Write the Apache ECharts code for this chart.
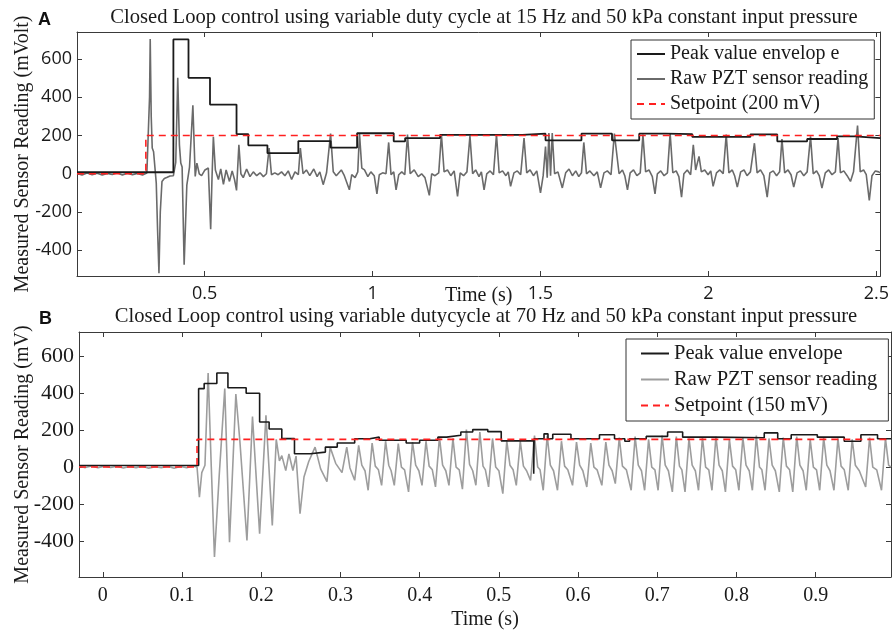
<!DOCTYPE html>
<html>
<head>
<meta charset="utf-8">
<script src="https://cdn.jsdelivr.net/npm/echarts@6.0.0/dist/echarts.min.js"></script>
<style>
  html, body { margin: 0; padding: 0; background: #fff; }
  #chart { width: 892px; height: 634px; }
</style>
</head>
<body>
<div id="chart"></div>
<script>
// ---- Panel A data (time s, mV) ----
const topXTicks = [0.5, 1, 1.5, 2, 2.5];
const topYTicks = [-400, -200, 0, 200, 400, 600];

const topRaw = [
  [0.120, 2], [0.135, -6], [0.150, 4], [0.165, -5], [0.180, 3], [0.195, -7], [0.210, 2], [0.225, -4],
  [0.240, 5], [0.255, -6], [0.270, 3], [0.285, -5], [0.300, 2], [0.315, -6], [0.328, 4], [0.333, 10],
  [0.336, 400], [0.338, 705], [0.341, 300], [0.344, 135], [0.348, 115], [0.353, 110], [0.356, -49],
  [0.360, -300], [0.364, -520], [0.368, -200], [0.373, -40], [0.380, -25], [0.387, -20], [0.397, -12],
  [0.407, -10], [0.414, 60], [0.420, 502], [0.425, 150], [0.429, 56], [0.433, 35], [0.439, -476],
  [0.447, -60], [0.455, 35], [0.465, 359], [0.472, -14], [0.477, 56], [0.484, 0], [0.491, -10],
  [0.501, 20], [0.511, 30], [0.518, -290], [0.522, -20], [0.526, 194], [0.532, 20], [0.541, -30],
  [0.548, 25], [0.556, -55], [0.564, 20], [0.574, -40], [0.582, 15], [0.589, -30], [0.595, -87],
  [0.602, 152], [0.608, 0], [0.615, -20], [0.625, 25], [0.635, -15], [0.645, 10], [0.655, -10],
  [0.665, 5], [0.675, -15], [0.684, 0], [0.692, 135], [0.699, -5], [0.709, 5], [0.719, -5],
  [0.729, 10], [0.739, -10], [0.749, 15], [0.759, -30], [0.769, 10], [0.779, -5], [0.785, 135],
  [0.793, 0], [0.803, 20], [0.813, -10], [0.825, 25], [0.835, -15], [0.843, 10], [0.853, -57],
  [0.863, 5], [0.875, 210], [0.883, 10], [0.892, -10], [0.907, 20], [0.916, -10],
  [0.931, -84], [0.938, -5], [0.948, -20], [0.956, 10], [0.961, 213], [0.968, 30], [0.976, 20],
  [0.986, -15], [0.995, 10], [1.005, -10], [1.013, -105], [1.020, -5], [1.030, 5], [1.040, 0],
  [1.048, 164], [1.055, -5], [1.063, 10], [1.070, -84], [1.078, -5], [1.087, 10], [1.096, -5],
  [1.104, 205], [1.112, 0], [1.124, 20], [1.136, -15], [1.146, 0], [1.156, -20], [1.169, -113],
  [1.176, 0], [1.186, -10], [1.197, 5], [1.205, 205], [1.213, 10], [1.223, 20], [1.233, -10],
  [1.243, 15], [1.253, -119], [1.261, 5], [1.271, -10], [1.281, 10], [1.290, 199], [1.298, 0],
  [1.307, 20], [1.317, -15], [1.324, 10], [1.332, -84], [1.340, 0], [1.350, 15], [1.360, -5],
  [1.369, 205], [1.377, 5], [1.387, 15], [1.397, -10], [1.404, 10], [1.411, -66], [1.421, 5],
  [1.431, 15], [1.441, -5], [1.451, 187], [1.459, 5], [1.469, 20], [1.479, -10], [1.489, 15],
  [1.500, -100], [1.508, -10], [1.515, 143], [1.520, -20], [1.525, 213], [1.530, -10], [1.535, 213],
  [1.542, 0], [1.552, 10], [1.565, -74], [1.575, 5], [1.585, 25], [1.595, -10], [1.605, 15],
  [1.614, -15], [1.622, 5], [1.629, 164], [1.637, 0], [1.647, 15], [1.659, -10], [1.669, 10],
  [1.679, -74], [1.689, 5], [1.699, 15], [1.710, -5], [1.720, 210], [1.734, 0], [1.744, 20],
  [1.751, -10], [1.759, -84], [1.767, 5], [1.777, 20], [1.787, -10], [1.797, 5], [1.805, 205],
  [1.813, 10], [1.823, 20], [1.833, -15], [1.841, -105], [1.848, 0], [1.858, 15], [1.868, -10],
  [1.878, 5], [1.886, 213], [1.894, 5], [1.904, 15], [1.912, -15], [1.920, -122], [1.927, 0],
  [1.937, 20], [1.947, -5], [1.955, 152], [1.962, 20], [1.972, 91], [1.979, 10], [1.989, 20],
  [1.999, -5], [2.007, 15], [2.014, -66], [2.024, 5], [2.034, 20], [2.044, 0], [2.053, 205],
  [2.061, 5], [2.071, 20], [2.078, -10], [2.086, -70], [2.096, 10], [2.106, 20], [2.115, -10],
  [2.125, 10], [2.137, 160], [2.145, 5], [2.155, 20], [2.165, -10], [2.175, -122], [2.183, 5],
  [2.193, 15], [2.203, -10], [2.212, 10], [2.219, 182], [2.227, 5], [2.237, 20], [2.246, -5],
  [2.254, -70], [2.264, 5], [2.274, 15], [2.284, -10], [2.294, 10], [2.304, 196], [2.312, 0],
  [2.322, 15], [2.330, -10], [2.338, -75], [2.348, 5], [2.358, 20], [2.368, -5], [2.378, 10],
  [2.386, 187], [2.393, 5], [2.403, 15], [2.413, -10], [2.423, -40], [2.432, 10], [2.444, 252],
  [2.452, 10], [2.462, 20], [2.470, -5], [2.479, -140], [2.487, -10], [2.497, 15], [2.507, 10],
  [2.512, 5]
];

// value holds from this time until the next entry
const topEnvelope = [
  [0.120, 8], [0.407, 703], [0.452, 502], [0.516, 362], [0.595, 208], [0.630, 149], [0.687, 108],
  [0.779, 171], [0.875, 137], [0.954, 212], [1.063, 170], [1.097, 187], [1.201, 204], [1.446, 210],
  [1.515, 175], [1.622, 210], [1.713, 175], [1.794, 210], [1.873, 207], [1.952, 193], [2.125, 206],
  [2.205, 170], [2.294, 182], [2.383, 196], [2.437, 187], [2.512, 187]
];

const topSetpoint = [[0.120, 0], [0.325, 200], [2.512, 200]];

// ---- Panel B data ----
const bottomXTicks = [0, 0.1, 0.2, 0.3, 0.4, 0.5, 0.6, 0.7, 0.8, 0.9];
const bottomYTicks = [-400, -200, 0, 200, 400, 600];

const bottomRaw = [
  [-0.030, 4], [-0.022, -3], [-0.014, 6], [-0.006, -4], [0.002, 5], [0.010, -2], [0.018, 4],
  [0.026, -5], [0.034, 3], [0.042, -3], [0.050, 5], [0.058, -6], [0.066, 2], [0.074, -4],
  [0.082, 5], [0.090, -6], [0.098, 3], [0.106, -4], [0.114, 6], [0.119, 0],
  [0.120, 0], [0.122, -163], [0.125, -30], [0.129, 10], [0.133, 510], [0.137, 0], [0.141, -488],
  [0.147, -45], [0.154, 425], [0.160, -407], [0.168, 396], [0.173, 145], [0.182, -398], [0.189, 274],
  [0.198, -361], [0.206, 280], [0.214, -316], [0.219, 150], [0.223, 33], [0.226, 62], [0.231, -19],
  [0.235, 71], [0.240, -19], [0.244, 59], [0.249, -253], [0.254, -54], [0.260, 30], [0.268, 108],
  [0.275, -10], [0.283, -79], [0.287, 108], [0.294, 20], [0.302, -30], [0.308, 108], [0.312, -5],
  [0.318, -72], [0.323, 118], [0.327, 10], [0.331, -20],
  [0.335, -126], [0.340, 130], [0.344, 5], [0.348, -15],
  [0.352, -99], [0.357, 140], [0.361, 10], [0.364, -20],
  [0.368, -99], [0.373, 127], [0.377, 0], [0.381, -15],
  [0.386, -135], [0.391, 135], [0.395, 10], [0.399, -20],
  [0.403, -99], [0.408, 140], [0.412, 5], [0.416, -15],
  [0.420, -108], [0.425, 162], [0.429, 10], [0.433, -20],
  [0.437, -99], [0.442, 155], [0.446, 0], [0.450, -15],
  [0.454, -120], [0.459, 203], [0.463, 15], [0.467, -20],
  [0.471, -99], [0.476, 190], [0.480, 5], [0.483, -15],
  [0.487, -108], [0.492, 155], [0.496, 0], [0.500, -20],
  [0.505, -144], [0.510, 140], [0.514, 10], [0.518, -15],
  [0.522, -99], [0.527, 140], [0.531, 5], [0.535, -20],
  [0.540, -72], [0.545, 170], [0.549, 0], [0.552, -15],
  [0.556, -126], [0.561, 170], [0.565, 10], [0.569, -20],
  [0.574, -126], [0.579, 140], [0.583, 5], [0.587, -15],
  [0.593, -99], [0.598, 135], [0.602, 10], [0.606, -20],
  [0.611, -108], [0.616, 130], [0.620, 0], [0.624, -15],
  [0.630, -99], [0.635, 135], [0.639, 10], [0.643, -20],
  [0.647, -90], [0.652, 160], [0.656, 5], [0.661, -15],
  [0.667, -126], [0.672, 165], [0.676, 10], [0.680, -20],
  [0.684, -126], [0.689, 150], [0.693, 0], [0.697, -15],
  [0.701, -126], [0.706, 170], [0.710, 10], [0.714, -20],
  [0.719, -135], [0.724, 165], [0.728, 5], [0.731, -15],
  [0.735, -135], [0.740, 155], [0.744, 10], [0.748, -20],
  [0.752, -126], [0.757, 160], [0.761, 0], [0.765, -15],
  [0.769, -126], [0.774, 165], [0.778, 10], [0.782, -20],
  [0.786, -135], [0.791, 150], [0.795, 5], [0.799, -15],
  [0.803, -126], [0.808, 160], [0.812, 10], [0.816, -20],
  [0.820, -126], [0.825, 170], [0.829, 0], [0.832, -15],
  [0.836, -126], [0.841, 155], [0.845, 10], [0.849, -20],
  [0.854, -135], [0.859, 160], [0.863, 5], [0.867, -15],
  [0.871, -135], [0.876, 165], [0.880, 10], [0.884, -20],
  [0.888, -126], [0.893, 150], [0.897, 0], [0.901, -15],
  [0.905, -126], [0.910, 160], [0.914, 10], [0.918, -20],
  [0.923, -126], [0.928, 155], [0.932, 5], [0.936, -15],
  [0.941, -126], [0.946, 150], [0.950, 10], [0.955, -20],
  [0.963, -108], [0.968, 160], [0.972, 0], [0.977, -15],
  [0.983, -126], [0.988, 155], [0.992, 10], [0.995, 0]
];

const bottomEnvelope = [
  [-0.030, 8], [0.121, 425], [0.128, 453], [0.144, 510], [0.158, 430], [0.181, 400], [0.198, 244],
  [0.210, 206], [0.226, 154], [0.242, 72], [0.262, 81], [0.281, 108], [0.296, 130], [0.318, 153],
  [0.337, 162], [0.349, 145], [0.383, 130], [0.400, 145], [0.423, 162], [0.434, 172], [0.452, 190],
  [0.467, 203], [0.486, 192], [0.503, 142], [0.544, -36], [0.5445, 153], [0.557, 180], [0.562, 153],
  [0.568, 178], [0.591, 153], [0.627, 175], [0.646, 153], [0.659, 140], [0.665, 153], [0.686, 166],
  [0.713, 190], [0.732, 162], [0.772, 159], [0.835, 185], [0.852, 153], [0.869, 175], [0.902, 162],
  [0.936, 140], [0.957, 175], [0.978, 153], [0.995, 153]
];

const bottomSetpoint = [[-0.030, 0], [0.119, 150], [0.995, 150]];

const serif = 'Liberation Serif';
const sans = 'Open Sans';
const axisColor = '#3a3a3a';

const chart = echarts.init(document.getElementById('chart'));

function xAxes(grid, min, max, ticks, labelFont, labelSize, nameGap) {
  return [
    {
      type: 'value', gridIndex: grid, min, max, position: 'bottom',
      axisLine: { show: true, onZero: false, lineStyle: { color: axisColor, width: 1 } },
      axisTick: { show: true, inside: true, length: 5, customValues: ticks, lineStyle: { color: axisColor } },
      axisLabel: { customValues: ticks, fontFamily: labelFont, fontSize: labelSize, color: '#1a1a1a', margin: 9 },
      splitLine: { show: false },
      name: 'Time (s)', nameLocation: 'middle', nameGap, nameMoveOverlap: false,
      nameTextStyle: { fontFamily: serif, fontSize: 20, color: '#1a1a1a' }
    },
    {
      type: 'value', gridIndex: grid, min, max, position: 'top',
      axisLine: { show: true, onZero: false, lineStyle: { color: axisColor, width: 1 } },
      axisTick: { show: true, inside: true, length: 5, customValues: ticks, lineStyle: { color: axisColor } },
      axisLabel: { show: false },
      splitLine: { show: false }
    }
  ];
}

function yAxes(grid, min, max, ticks, labelFont, labelSize, name, nameGap) {
  return [
    {
      type: 'value', gridIndex: grid, min, max, position: 'left',
      axisLine: { show: true, onZero: false, lineStyle: { color: axisColor, width: 1 } },
      axisTick: { show: true, inside: true, length: 5, customValues: ticks, lineStyle: { color: axisColor } },
      axisLabel: { customValues: ticks, fontFamily: labelFont, fontSize: labelSize, color: '#1a1a1a', margin: 5 },
      splitLine: { show: false },
      name, nameLocation: 'middle', nameGap, nameMoveOverlap: false,
      nameTextStyle: { fontFamily: serif, fontSize: 20, color: '#1a1a1a' }
    },
    {
      type: 'value', gridIndex: grid, min, max, position: 'right',
      axisLine: { show: true, onZero: false, lineStyle: { color: axisColor, width: 1 } },
      axisTick: { show: true, inside: true, length: 5, customValues: ticks, lineStyle: { color: axisColor } },
      axisLabel: { show: false },
      splitLine: { show: false }
    }
  ];
}

function line(name, data, axis, color, width, extra) {
  return Object.assign({
    name, type: 'line', data,
    xAxisIndex: axis, yAxisIndex: axis,
    showSymbol: false, symbol: 'none',
    lineStyle: { color, width },
    itemStyle: { color },
    emphasis: { disabled: true }
  }, extra || {});
}

const legendBase = {
  orient: 'vertical', selectedMode: false,
  backgroundColor: '#fff', borderColor: '#333', borderWidth: 1, borderRadius: 0,
  padding: [4, 6, 5, 5], itemGap: 5, itemWidth: 28, itemHeight: 12,
  itemStyle: { opacity: 0 },
  textStyle: { fontFamily: serif, fontSize: 20, color: '#1a1a1a' }
};

const option = {
  animation: false,
  backgroundColor: '#fff',
  title: [
    { text: 'Closed Loop control using variable duty cycle at 15 Hz and 50 kPa constant input pressure',
      left: 484, top: 7, padding: 0, textAlign: 'center',
      textStyle: { fontFamily: serif, fontSize: 20.6, fontWeight: 'normal', color: '#1a1a1a' } },
    { text: 'Closed Loop control using variable dutycycle at 70 Hz and 50 kPa constant input pressure',
      left: 486, top: 306, padding: 0, textAlign: 'center',
      textStyle: { fontFamily: serif, fontSize: 20.6, fontWeight: 'normal', color: '#1a1a1a' } },
    { text: 'A', left: 38, top: 11, padding: 0,
      textStyle: { fontFamily: 'Liberation Sans', fontSize: 18, fontWeight: 'bold', color: '#111' } },
    { text: 'B', left: 39, top: 310, padding: 0,
      textStyle: { fontFamily: 'Liberation Sans', fontSize: 18, fontWeight: 'bold', color: '#111' } }
  ],
  grid: [
    { left: 77, top: 32, right: 10, height: 244 },
    { left: 79, top: 332, right: 1, height: 245 }
  ],
  xAxis: [
    ...xAxes(0, 0.12, 2.512, topXTicks, sans, 18, 10),
    ...xAxes(1, -0.03, 0.995, bottomXTicks, serif, 20, 33)
  ],
  yAxis: [
    ...yAxes(0, -535, 742, topYTicks, sans, 18, 'Measured Sensor Reading (mVolt)', 44),
    ...yAxes(1, -596, 732, bottomYTicks, serif, 22, 'Measured Sensor Reading (mV)', 46)
  ],
  legend: [
    Object.assign({}, legendBase, {
      left: 631, top: 40,
      data: ['Peak value envelop e', 'Raw PZT sensor reading', 'Setpoint (200 mV)']
    }),
    Object.assign({}, legendBase, {
      left: 626, top: 339, padding: [4, 6, 5, 14],
      textStyle: { fontFamily: serif, fontSize: 20.5, color: '#1a1a1a' },
      data: ['Peak value envelope', 'Raw PZT sensor reading ', 'Setpoint (150 mV)']
    })
  ],
  series: [
    line('Raw PZT sensor reading', topRaw, 0, '#6a6a6a', 1.6),
    line('Peak value envelop e', topEnvelope, 0, '#1a1a1a', 1.8, { step: 'end' }),
    line('Setpoint (200 mV)', topSetpoint, 0, '#ff2020', 1.6,
      { step: 'end', lineStyle: { color: '#ff2020', width: 1.6, type: [7, 5] } }),
    line('Raw PZT sensor reading ', bottomRaw, 2, '#9d9d9d', 1.6),
    line('Peak value envelope', bottomEnvelope, 2, '#1a1a1a', 1.6, { step: 'end' }),
    line('Setpoint (150 mV)', bottomSetpoint, 2, '#ff2020', 1.6,
      { step: 'end', lineStyle: { color: '#ff2020', width: 1.6, type: [7, 5] } })
  ]
};

chart.setOption(option);
</script>
</body>
</html>
